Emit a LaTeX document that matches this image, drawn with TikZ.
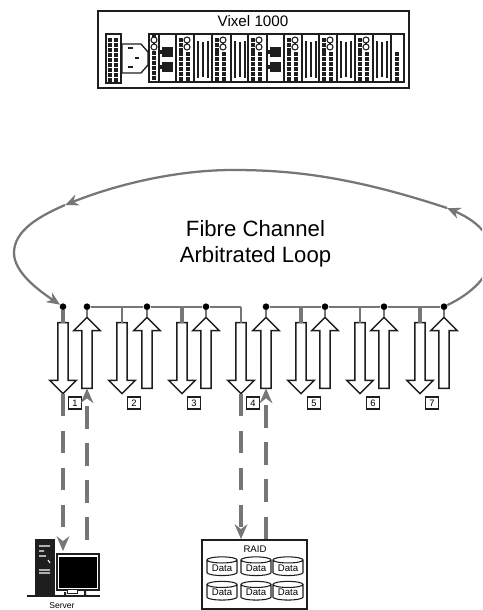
\documentclass[tikz,border=0pt]{standalone}
\usepackage{fontspec}
\setmainfont{Liberation Sans}
\usetikzlibrary{arrows.meta, positioning, shapes.geometric, shapes.arrows}
\definecolor{wirecol}{RGB}{118,118,118}
\definecolor{inkcol}{RGB}{30,30,30}
\tikzset{
  wire/.style={draw=wirecol,line width=1.7pt},
  fatwire/.style={draw=wirecol,line width=2.5pt},
  looparrow/.style={wire,-{Stealth[length=10pt,width=8.5pt]}},
  linkdash/.style={wirecol,line width=2.4pt,dash pattern=on 16.9pt off 10.9pt,-{Stealth[length=11pt,width=9.5pt]}},
  portarrow/.style={single arrow,draw=inkcol,fill=white,line width=1.1pt,inner xsep=0pt,inner ysep=3.3pt,outer sep=0pt,
    minimum height=53.25pt,single arrow head extend=6pt},
  outarrow/.style={portarrow,rotate=-90},
  inarrow/.style={portarrow,rotate=90},
  tapdot/.style={circle,fill=black,inner sep=0pt,minimum size=5pt},
  numbox/.style={rectangle,draw=inkcol,fill=white,line width=1pt,inner sep=0pt,
    minimum width=9.5pt,minimum height=9pt,font=\fontsize{7}{8}\selectfont},
  diskdrum/.style={cylinder,shape border rotate=90,aspect=0.3,draw=inkcol,line width=0.8pt,inner sep=0pt,
    minimum width=22.5pt,minimum height=14pt,font=\fontsize{7.2}{8}\selectfont},
  bay/.style={draw=inkcol,line width=1pt,fill=white},
  ledsq/.style={fill=inkcol},
}

\begin{document}
\begin{tikzpicture}[x=0.75pt,y=-0.75pt]
  \useasboundingbox (0,0) rectangle (482,610);
  \clip (0,0) rectangle (482,610);
  % switch chassis
  \node[draw=inkcol,line width=1.1pt,minimum width=233pt,minimum height=57.5pt,inner sep=0pt] (vixel) at (253.5,49.5) {};
  \node[font=\fontsize{11.4}{13}\selectfont] (vixeltitle) at (253,21) {Vixel 1000};
  \draw[bay] (106,34) rectangle (121,83);
  \foreach \r in {0,...,8} {
    \fill[ledsq] (108,{38+5*\r}) rectangle ++(4.4,4.2);
    \fill[ledsq] (114,{38+5*\r}) rectangle ++(4.4,4.2);
  }
  \draw[bay] (122,44)--(141,44)--(148,52)--(148,65)--(141,73)--(122,73)--cycle;
  \draw[inkcol,line width=0.8pt] (128,48)--(133,48) (135,58)--(139,58) (128,67)--(133,67);
  % bays along the chassis
  \foreach \a/\b in {149/159,159/176,176/194,194/212,212/231,231/248,248/267,267/284,284/302,302/319,319/337,337/355,355/373,373/391,391/404}
    \draw[bay] (\a,34) rectangle (\b,82);
  % narrow bay at the left
  \foreach \r in {0,...,5} \fill[ledsq] (152,{51+5*\r}) rectangle ++(4.4,4.2);
  \fill[ledsq] (152,34)--(156,34)--(156,37)--(152,37)--cycle;
  \draw[inkcol,fill=white,line width=0.8pt] (154,40) circle (3) (154,47) circle (3);
  % bays with two cages
  \foreach \a in {159,267} {
    \fill[ledsq] ({\a+3},47) rectangle ++(11,10);
    \fill[ledsq] ({\a+3},62) rectangle ++(11,10);
    \fill[ledsq] ({\a+1},50) rectangle ++(3,4);
    \fill[ledsq] ({\a+1},65) rectangle ++(3,4);
  }
  % bays with led columns
  \foreach \a in {176,212,248,284,319,355} {
    \foreach \r in {0,...,5} {
      \fill[ledsq] ({\a+3},{52+5*\r}) rectangle ++(4.4,4.2);
      \fill[ledsq] ({\a+10},{52+5*\r}) rectangle ++(4.4,4.2);
    }
    \foreach \r in {0,1,2} \fill[ledsq] ({\a+3},{38+5*\r}) rectangle ++(4.4,4.2);
    \draw[inkcol,fill=white,line width=0.8pt] ({\a+11},40) circle (3) ({\a+11},47) circle (3);
  }
  % bays with fibre runs
  \foreach \a in {194,231,302,337,373} {
    \draw[inkcol,line width=0.8pt] ({\a+4},41)--({\a+4},78) ({\a+14},41)--({\a+14},78) ({\a+9},42)--({\a+9},76);
    \draw[inkcol,line width=1.3pt] ({\a+9},42)--({\a+9},50) ({\a+9},70)--({\a+9},77);
  }
  \foreach \r in {0,...,5} \fill[ledsq] (395,{52+5*\r}) rectangle ++(4.4,4.2);
  % loop text
  \node[align=center,font=\fontsize{16.6}{19.5}\selectfont] (looptext) at (255.5,244) {Fibre Channel\\Arbitrated Loop};
  % taps on the bus
  \foreach \i/\x in {1/63,2/87,3/147,4/206,5/266,6/325,7/384,8/444}
    \node[tapdot] (tap\i) at (\x,306.7) {};
  \draw[wire] (tap2) -- (tap3) -- (tap4) -- (241,306.7) coordinate (busend);
  \draw[wire] (tap5) -- (tap6) -- (tap7) -- (tap8);
  % port arrows
  \foreach \i/\xo/\xi/\xn in {1/63/87/75,2/122/147/134,3/182/206/194,4/241/266/253,5/301/325/314,6/360/384/373,7/420/444/432} {
    \node[outarrow] (out\i) at (\xo,355.5) {};
    \node[inarrow] (in\i) at (\xi,355.5) {};
    \node[numbox] (num\i) at (\xn,403) {\i};
  }
  \draw[fatwire] (tap1) -- (out1.west);
  \draw[wire] (tap2) -- (in1.tip);
  \draw[wire] (tap3) -- (in2.tip);
  \draw[wire] (tap4) -- (in3.tip);
  \draw[wire] (tap5) -- (in4.tip);
  \draw[wire] (tap6) -- (in5.tip);
  \draw[wire] (tap7) -- (in6.tip);
  \draw[wire] (tap8) -- (in7.tip);
  \draw[wire] (tap2 -| out2) -- (out2.west);
  \draw[fatwire] (tap2 -| out3) -- (out3.west);
  \draw[wire] (busend) -- (out4.west);
  \draw[fatwire] (tap5 -| out5) -- (out5.west);
  \draw[wire] (tap5 -| out6) -- (out6.west);
  \draw[fatwire] (tap5 -| out7) -- (out7.west);
  % the loop
  \coordinate (rightturn) at (447,208);
  \coordinate (leftturn) at (65,205);
  \draw[looparrow] (tap8) .. controls (500,280) and (510,235) .. (rightturn);
  \draw[looparrow] (rightturn) .. controls (350,176) and (290,170) .. (233,170)
    .. controls (175,170) and (115,185) .. (leftturn);
  \draw[looparrow] (leftturn) .. controls (40,216) and (14,230) .. (14,253)
    .. controls (14,272) and (38,290) .. (tap1);
  % server
  \fill[inkcol] (35,539) rectangle (55,595);
  \draw[white,line width=0.8pt] (39,546)--(50,546) (39,551)--(44,551) (39,556)--(46,556) (48,560)--(50,563) (39,570)--(50,570) (39,573)--(50,573);
  \draw[inkcol,fill=white,line width=1.2pt] (57,554) rectangle (99,590);
  \fill[black] (59,557) rectangle (97,588);
  \draw[inkcol,fill=white,line width=0.7pt] (67,589) rectangle (77,593);
  \fill[inkcol] (27,594.5) rectangle (100,597);
  \fill[inkcol] (64,592) rectangle (66,596) (84,590) rectangle (86,596);
  \node[font=\fontsize{6.4}{7}\selectfont,anchor=south,inner sep=0pt] (server) at (62,609) {Server};
  \coordinate (srvin) at (63,551);
  \coordinate (srvout) at (87,540);
  % raid
  \node[draw=inkcol,line width=1.2pt,minimum width=78.75pt,minimum height=52pt,inner sep=0pt] (raid) at (254.5,574.5) {};
  \node[font=\fontsize{7.2}{8}\selectfont] (raidtitle) at (255,549) {RAID};
  \foreach \n/\x/\y in {a/222/568,b/256/568,c/288/568,d/222/592.5,e/256/592.5,f/288/592.5}
    \node[diskdrum] (disk\n) at (\x,\y) {Data};
  % links to server and raid
  \draw[linkdash] (out1.tip) -- (srvin);
  \draw[linkdash] (srvout) -- (in1.west);
  \draw[linkdash] (out4.tip) -- (out4.tip |- raid.north);
  \draw[linkdash] (in4.west |- raid.north) -- (in4.west);
\end{tikzpicture}
\end{document}
